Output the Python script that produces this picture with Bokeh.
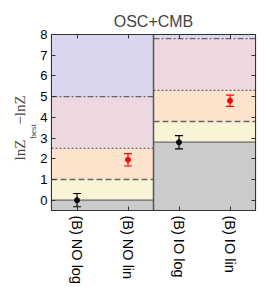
import math
from bokeh.plotting import figure
from bokeh.models import FixedTicker, LinearAxis, Range1d, Whisker, ColumnDataSource, Title
from bokeh.models import TeeHead
from bokeh.embed import file_html
from bokeh.resources import INLINE

categories = ["(B) NO log", "(B) NO lin", "(B) IO log", "(B) IO lin"]
delta_lnZ = [0.0, 1.95, 2.8, 4.8]
errors = [0.32, 0.3, 0.32, 0.27]
point_colors = ["black", "red", "black", "red"]
ordering_best = [0.0, 2.8]          # NO, IO
jeffreys_thresholds = [1.0, 2.5, 5.0]
band_colors = ["#cbcbcb", "#faf4d6", "#fde3cc", "#edd7e1", "#d9d6ed"]
line_dashes = ["solid", "6 3", "2 2", "6 2 2 2"]
y_ticks = [0, 1, 2, 3, 4, 5, 6, 7, 8]

YMIN, YMAX = -0.5, 8.0
FONT = "Liberation Sans"
SERIF = "Liberation Serif"

p = figure(width=270, height=296, output_backend="svg", toolbar_location=None,
           x_range=Range1d(-0.5, len(categories) - 0.5), y_range=Range1d(YMIN, YMAX),
           min_border_left=51, min_border_right=15, min_border_top=34, min_border_bottom=86,
           title="OSC+CMB")
p.title.align = "center"
p.title.text_font = FONT
p.title.text_font_size = "16px"
p.title.text_font_style = "normal"
p.grid.visible = False
p.outline_line_color = "#333333"
p.outline_line_width = 1.2

# bands
left, right, bottom, top, color = [], [], [], [], []
for i, base in enumerate(ordering_best):
    edges = [YMIN, base] + [base + t for t in jeffreys_thresholds] + [YMAX]
    x0, x1 = 2 * i - 0.5, 2 * i + 1.5
    for k in range(5):
        left.append(x0); right.append(x1)
        bottom.append(edges[k]); top.append(edges[k + 1]); color.append(band_colors[k])
    levels = [base] + [base + t for t in jeffreys_thresholds]
    for lv, d in zip(levels, line_dashes):
        p.segment(x0=[x0], x1=[x1], y0=[lv], y1=[lv], line_color="#666666",
                  line_width=1.4, line_dash=d)
p.quad(left=left, right=right, bottom=bottom, top=top, fill_color=color, line_color=None,
       level="underlay")
p.segment(x0=[1.5], x1=[1.5], y0=[YMIN], y1=[YMAX], line_color="#555555", line_width=1.5)

# points with error bars
xs = list(range(len(categories)))
lo = [v - e for v, e in zip(delta_lnZ, errors)]
hi = [v + e for v, e in zip(delta_lnZ, errors)]
for i in xs:
    s = ColumnDataSource(dict(x=[xs[i]], lo=[lo[i]], hi=[hi[i]]))
    w = Whisker(base="x", lower="lo", upper="hi", source=s, line_color=point_colors[i],
                line_width=1.2,
                upper_head=TeeHead(size=8, line_color=point_colors[i], line_width=1.2),
                lower_head=TeeHead(size=8, line_color=point_colors[i], line_width=1.2))
    p.add_layout(w)
src = ColumnDataSource(dict(x=xs, y=delta_lnZ, c=point_colors))
p.scatter(x="x", y="y", source=src, color="c", size=5)

# axes
p.xaxis.ticker = FixedTicker(ticks=xs)
p.xaxis.major_label_overrides = {i: c for i, c in enumerate(categories)}
p.xaxis.major_label_orientation = -math.pi / 2
p.yaxis.ticker = FixedTicker(ticks=y_ticks)
for ax in [p.xaxis[0], p.yaxis[0]]:
    ax.major_tick_in = 4
    ax.major_tick_out = 0
    ax.minor_tick_line_color = None
    ax.axis_line_color = "#333333"
    ax.major_tick_line_color = "#333333"
    ax.major_label_text_font = FONT
    ax.major_label_text_color = "black"
    ax.major_label_standoff = 4
p.xaxis.major_label_text_font_size = "14.5px"
p.yaxis.major_label_text_font_size = "13px"
p.xaxis.major_label_standoff = 5

top_ax = LinearAxis(ticker=FixedTicker(ticks=xs),
                    major_label_overrides={t: "" for t in xs},
                    major_tick_in=4, major_tick_out=0, minor_tick_line_color=None,
                    axis_line_color="#333333", major_tick_line_color="#333333")
right_ax = LinearAxis(ticker=FixedTicker(ticks=y_ticks),
                      major_label_overrides={t: "" for t in y_ticks},
                      major_tick_in=4, major_tick_out=0, minor_tick_line_color=None,
                      axis_line_color="#333333", major_tick_line_color="#333333")
p.add_layout(top_ax, "above")
p.add_layout(right_ax, "right")

# y-axis label: ln Z_best - ln Z (subscript in its own inner column)
sub = Title(text="best", align="left", offset=72, standoff=0, text_font=SERIF,
            text_font_size="9px", text_font_style="normal")
main = Title(text="lnZ\u2003\u2212lnZ", align="left", offset=50, standoff=-5,
             text_font=SERIF, text_font_size="15px", text_font_style="normal")
p.add_layout(sub, "left")
p.add_layout(main, "left")

open("out.html", "w").write(file_html(p, INLINE))
